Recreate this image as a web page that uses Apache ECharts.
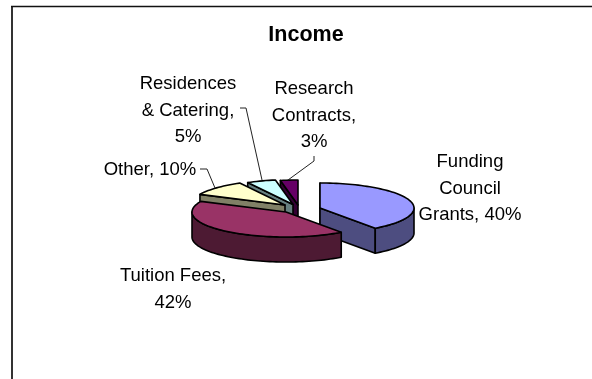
<!DOCTYPE html>
<html>
<head>
<meta charset="utf-8">
<style>html,body{margin:0;padding:0;background:#fff}#chart{width:592px;height:379px}</style>
<script src="https://cdn.jsdelivr.net/npm/echarts@6/dist/echarts.min.js"></script>
</head>
<body>
<div id="chart"></div>
<script>
// Income shares, clockwise from twelve o'clock
var categories = ['Funding Council Grants', 'Tuition Fees', 'Other', 'Residences & Catering', 'Research Contracts'];
var shares = [40, 42, 10, 5, 3];

// Wedge presentation
var topColors = ['#9999FF', '#993366', '#FFFFCC', '#CCFFFF', '#660066'];
var sideColors = ['#4D4D80', '#4D1A33', '#808066', '#668080', '#330033'];
var wedgeCentres = [[320, 208], [286, 212], [285, 205], [293, 204.5], [298, 205]];
var paintOrder = [1, 5, 4, 3, 2];
var radiusX = 94, radiusY = 25, depth = 25;

// Label placement: wrapped name lines, anchor and optional leader
var labelLines = [
  ['Funding', 'Council', 'Grants, '],
  ['Tuition Fees,', ''],
  ['Other, '],
  ['Residences', '& Catering,', ''],
  ['Research', 'Contracts,', '']
];
var labelAnchors = [[470, 162], [173, 276], [150, 170], [188, 84], [314, 89]];
var leaders = [
  null,
  null,
  [[200, 169], [207, 169], [215, 188]],
  [[240, 108], [246, 108], [262, 180]],
  [[314, 156], [314, 161], [288, 180]]
];

var total = shares.reduce(function (a, b) { return a + b; }, 0);

function rimPoint(c, deg, drop) {
  var t = deg * Math.PI / 180;
  return [c[0] + radiusX * Math.sin(t), c[1] - radiusY * Math.cos(t) + (drop || 0)];
}
function arc(c, from, to, drop) {
  var pts = [], n = Math.max(2, Math.ceil(Math.abs(to - from) / 2));
  for (var k = 0; k <= n; k++) pts.push(rimPoint(c, from + (to - from) * k / n, drop));
  return pts;
}
function face(points, fill, z2) {
  return {
    type: 'polygon', z2: z2,
    shape: { points: points },
    style: { fill: fill, stroke: '#000', lineWidth: 1.6, lineJoin: 'round' }
  };
}

function renderWedge(params, api) {
  var i = params.dataIndex, value = api.value(0);
  var before = shares.slice(0, i).reduce(function (a, b) { return a + b; }, 0);
  var start = before / total * 360, end = start + value / total * 360;
  var c = wedgeCentres[i], base = paintOrder[i] * 10, kids = [];
  var cBelow = [c[0], c[1] + depth];

  // Radial cut faces that turn towards the viewer
  if (Math.cos(start * Math.PI / 180) > 0.001) {
    kids.push(face([c, rimPoint(c, start), rimPoint(c, start, depth), cBelow], sideColors[i], base + 1));
  }
  if (Math.cos(end * Math.PI / 180) < -0.001) {
    kids.push(face([c, rimPoint(c, end), rimPoint(c, end, depth), cBelow], sideColors[i], base + 1));
  }
  // Outer wall along the front half of the rim
  var from = Math.max(start, 90), to = Math.min(end, 270);
  if (to > from) {
    var upper = arc(c, from, to, 0), lower = arc(c, from, to, depth).reverse();
    kids.push(face(upper.concat(lower), sideColors[i], base + 2));
  }
  // Top surface
  kids.push(face([c].concat(arc(c, start, end, 0)), topColors[i], base + 3));

  // Label text
  var lines = labelLines[i].slice();
  lines[lines.length - 1] += value + '%';
  lines.forEach(function (line, n) {
    kids.push({
      type: 'text', z2: 200,
      style: {
        text: line, x: labelAnchors[i][0], y: labelAnchors[i][1] + n * 26.5,
        align: 'center', verticalAlign: 'middle',
        font: '18.5px "Liberation Sans", Arial, sans-serif', fill: '#000'
      }
    });
  });
  if (leaders[i]) {
    kids.push({
      type: 'polyline', z2: 190,
      shape: { points: leaders[i] },
      style: { fill: 'none', stroke: '#222', lineWidth: 1 }
    });
  }
  return { type: 'group', children: kids };
}

var chart = echarts.init(document.getElementById('chart'), null, { renderer: 'canvas' });
chart.setOption({
  animation: false,
  backgroundColor: '#fff',
  graphic: [
    { type: 'line', shape: { x1: 12, y1: 6, x2: 12, y2: 379 }, style: { stroke: '#333', lineWidth: 2 } },
    { type: 'line', shape: { x1: 11, y1: 6.5, x2: 592, y2: 6.5 }, style: { stroke: '#111', lineWidth: 1.5 } },
    {
      type: 'text', x: 306, y: 35,
      style: {
        text: 'Income', align: 'center', verticalAlign: 'middle',
        font: 'bold 21.5px "Liberation Sans", Arial, sans-serif', fill: '#000'
      }
    }
  ],
  series: [{
    type: 'custom',
    coordinateSystem: 'none',
    renderItem: renderWedge,
    data: shares.map(function (v, i) { return { name: categories[i], value: [v] }; })
  }]
});
</script>
</body>
</html>
